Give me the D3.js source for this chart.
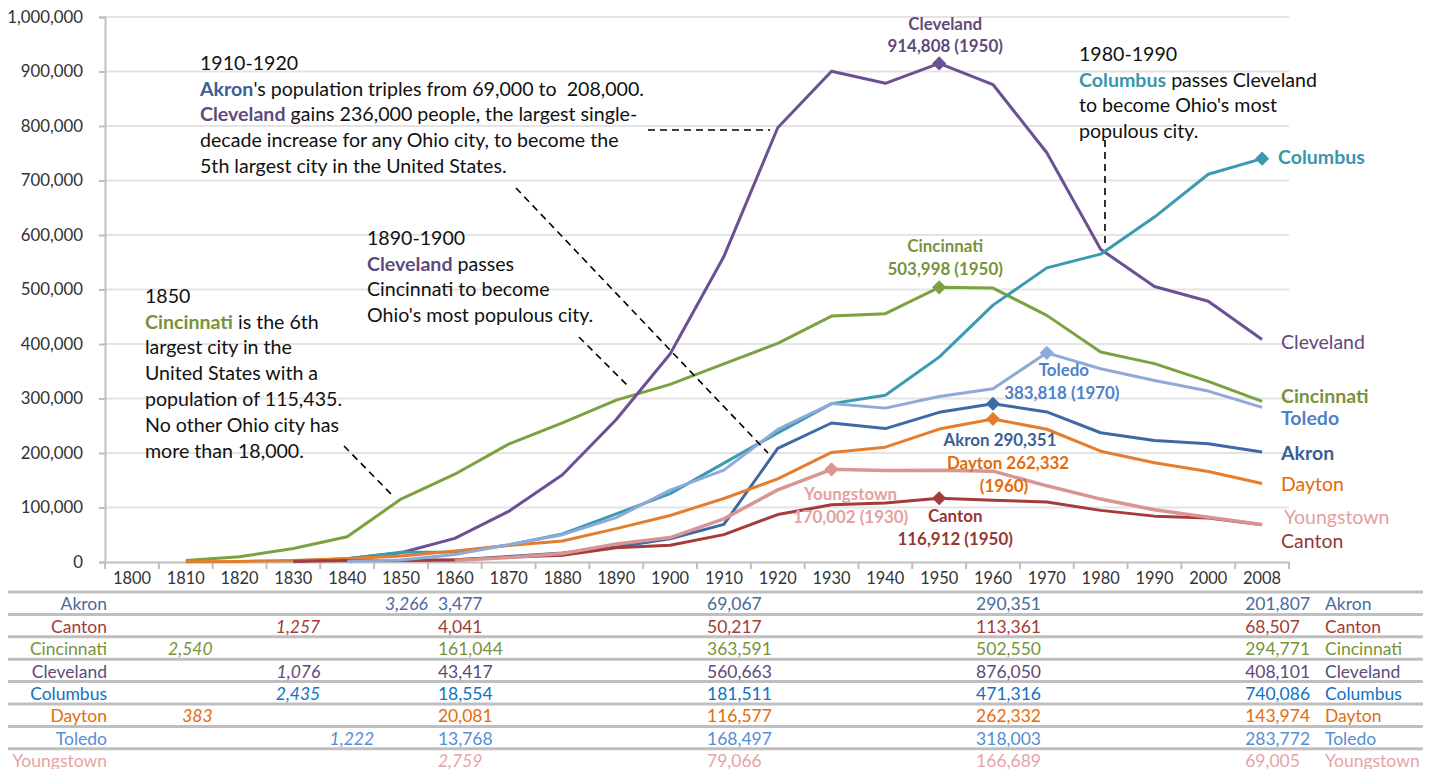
<!DOCTYPE html>
<html lang="en">
<head>
<meta charset="UTF-8">
<title>Ohio city populations</title>
<script src="https://cdn.jsdelivr.net/npm/d3@7"></script>
<style>
  body { margin: 0; background: #fff; }
  svg { display: block; font-family: Lato, "Open Sans", sans-serif; }
</style>
</head>
<body>
<svg id="chart" width="1431" height="769"></svg>
<script>
// census years (last one is the 2008 estimate)
const years = ['1800','1810','1820','1830','1840','1850','1860','1870','1880','1890','1900',
               '1910','1920','1930','1940','1950','1960','1970','1980','1990','2000','2008'];
const cities = ['Akron','Canton','Cincinnati','Cleveland','Columbus','Dayton','Toledo','Youngstown'];

const akron      = [null,null,null,null,null,3266,3477,10006,16512,27601,42728,69067,208435,255040,244791,274605,290351,275425,237177,223019,217074,201807];
const canton     = [null,null,null,1257,2529,2603,4041,8660,12258,26189,30667,50217,87091,104906,108401,116912,113361,110053,94730,84161,80806,68507];
const cincinnati = [null,2540,9642,24831,46338,115435,161044,216239,255139,296908,325902,363591,401247,451160,455610,503998,502550,452524,385457,364040,331285,294771];
const cleveland  = [null,null,null,1076,6071,17034,43417,92829,160146,261353,381768,560663,796841,900429,878336,914808,876050,750903,573822,505616,478403,408101];
const columbus   = [null,null,null,2435,6048,17882,18554,31274,51647,88150,125560,181511,237031,290564,306087,375901,471316,539677,564871,632910,711470,740086];
const dayton     = [null,383,1139,2950,6067,10977,20081,30473,38678,61220,85333,116577,152559,200982,210718,243872,262332,243601,203371,182044,166179,143974];
const toledo     = [null,null,null,null,1222,3829,13768,31584,50137,81434,131822,168497,243164,290718,282349,303616,318003,383818,354635,332943,313619,283772];
const youngstown = [null,null,null,null,null,null,2759,8075,15435,33220,44885,79066,132358,170002,167720,168330,166689,139788,115436,95732,82026,69005];

const yTickValues = [0,100000,200000,300000,400000,500000,600000,700000,800000,900000,1000000];
const tableYears = ['1860','1910','1960','2008'];

// peak / end markers
const peakYears = {Cleveland:'1950', Cincinnati:'1950', Toledo:'1970', Akron:'1960',
                   Dayton:'1960', Youngstown:'1930', Canton:'1950', Columbus:'2008'};

const series = {Akron:akron, Canton:canton, Cincinnati:cincinnati, Cleveland:cleveland,
                Columbus:columbus, Dayton:dayton, Toledo:toledo, Youngstown:youngstown};

const lineColor = {Akron:'#3d69a5', Canton:'#a53b3b', Cincinnati:'#7ba23f', Cleveland:'#6b5093',
                   Columbus:'#3a9ab2', Dayton:'#e47d2e', Toledo:'#8eaad8', Youngstown:'#d99494'};
const labelColor = {Akron:'#3a5f96', Canton:'#963736', Cincinnati:'#77933c', Cleveland:'#604a7b',
                    Columbus:'#3a96ad', Dayton:'#e46c0a', Toledo:'#4f81c8', Youngstown:'#e3a1a1'};
const tableColor = {Akron:'#4a6a9e', Canton:'#a33b3b', Cincinnati:'#77933c', Cleveland:'#604a7b',
                    Columbus:'#1272c0', Dayton:'#e46c0a', Toledo:'#558ed5', Youngstown:'#e6a4a4'};

const svg = d3.select('#chart');

const x = d3.scaleBand().domain(years).range([105, 1289]);
const xc = yr => x(yr) + x.bandwidth() / 2;
const y = d3.scaleLinear().domain([0, 1000000]).range([562, 17]);

// gridlines
svg.append('g').selectAll('line').data(yTickValues.slice(1)).join('line')
    .attr('x1', 105).attr('x2', 1289)
    .attr('y1', d => y(d)).attr('y2', d => y(d))
    .attr('stroke', '#e4e4e4').attr('stroke-width', 2);

// y axis
const yAxis = svg.append('g').attr('transform', 'translate(105,0)')
    .call(d3.axisLeft(y).tickValues(yTickValues).tickFormat(d3.format(',')).tickSize(6).tickPadding(16));
yAxis.select('.domain').attr('stroke', '#bfbfbf').attr('stroke-width', 2);
yAxis.selectAll('.tick line').attr('stroke', '#bfbfbf').attr('stroke-width', 2);
yAxis.selectAll('text').attr('font-size', 16.8).attr('fill', '#333').attr('font-family', 'Lato');

// x axis: labels centred in bands, ticks on band edges
const xAxis = svg.append('g').attr('transform', 'translate(0,562)')
    .call(d3.axisBottom(x).tickSize(0).tickPadding(10));
xAxis.select('.domain').attr('stroke', '#bfbfbf').attr('stroke-width', 2);
xAxis.selectAll('text').attr('font-size', 16.4).attr('fill', '#333').attr('font-family', 'Lato');
svg.append('g').selectAll('line').data(years.concat(['end'])).join('line')
    .attr('x1', (d, i) => i < years.length ? x(d) : 1289)
    .attr('x2', (d, i) => i < years.length ? x(d) : 1289)
    .attr('y1', 562).attr('y2', 569)
    .attr('stroke', '#bfbfbf').attr('stroke-width', 2);

// lines
const line = d3.line()
    .defined(d => d.v != null)
    .x(d => xc(d.yr))
    .y(d => y(d.v));

const drawOrder = ['Cincinnati','Cleveland','Columbus','Akron','Dayton','Canton','Youngstown','Toledo'];
drawOrder.forEach(c => {
  const pts = years.map((yr, i) => ({yr, v: series[c][i]}));
  svg.append('path').datum(pts)
      .attr('d', line)
      .attr('fill', 'none')
      .attr('stroke', lineColor[c])
      .attr('stroke-width', c === 'Youngstown' ? 3.5 : 3)
      .attr('stroke-linejoin', 'round');
});

// diamonds
const diamond = d3.symbol().type(d3.symbolSquare).size(100);
drawOrder.forEach(c => {
  const yr = peakYears[c];
  const v = series[c][years.indexOf(yr)];
  svg.append('path')
      .attr('d', diamond)
      .attr('transform', `translate(${xc(yr)},${y(v)}) rotate(45)`)
      .attr('fill', lineColor[c]);
});

// data labels near the markers
function pt(c) {
  const yr = peakYears[c];
  return [xc(yr), y(series[c][years.indexOf(yr)]), yr, series[c][years.indexOf(yr)]];
}
const fmt = d3.format(',');
function label(txt, px, py, color, anchor, weight, size) {
  svg.append('text').attr('x', px).attr('y', py).attr('dy', '0.35em')
      .attr('text-anchor', anchor || 'middle')
      .attr('font-weight', weight || 'bold')
      .attr('font-size', size || 16.9)
      .attr('fill', color).text(txt);
}
let p;
p = pt('Cleveland');
label('Cleveland', p[0] + 6, p[1] - 39, labelColor.Cleveland);
label(`${fmt(p[3])} (${p[2]})`, p[0] + 6, p[1] - 17, labelColor.Cleveland);
p = pt('Cincinnati');
label('Cincinnati', p[0] + 6, p[1] - 41, labelColor.Cincinnati);
label(`${fmt(p[3])} (${p[2]})`, p[0] + 6, p[1] - 18, labelColor.Cincinnati);
p = pt('Toledo');
label('Toledo', p[0] + 17, p[1] + 17, labelColor.Toledo);
label(`${fmt(p[3])} (${p[2]})`, p[0] + 15, p[1] + 40, labelColor.Toledo);
p = pt('Akron');
label(`Akron ${fmt(p[3])}`, p[0] + 7, p[1] + 36, labelColor.Akron);
p = pt('Dayton');
label(`Dayton ${fmt(p[3])}`, p[0] + 15, p[1] + 44, labelColor.Dayton);
label(`(${p[2]})`, p[0] + 11, p[1] + 67, labelColor.Dayton);
p = pt('Youngstown');
label('Youngstown', p[0] + 19, p[1] + 25, labelColor.Youngstown);
label(`${fmt(p[3])} (${p[2]})`, p[0] + 19, p[1] + 48, labelColor.Youngstown);
p = pt('Canton');
label('Canton', p[0] + 16, p[1] + 18, labelColor.Canton);
label(`${fmt(p[3])} (${p[2]})`, p[0] + 16, p[1] + 41, labelColor.Canton);
p = pt('Columbus');
label('Columbus', p[0] + 16, p[1] - 1, labelColor.Columbus, 'start', 'bold', 19.5);

// end-of-line labels
const endLabels = [
  ['Cleveland', 342, 'normal'], ['Cincinnati', 396, 'bold'], ['Toledo', 418, 'bold'],
  ['Akron', 453, 'bold'], ['Dayton', 484, 'normal'], ['Youngstown', 517, 'normal'], ['Canton', 541, 'normal']
];
endLabels.forEach(d => {
  label(d[0], d[0] === 'Youngstown' ? 1284 : 1281, d[1],
        d[0] === 'Youngstown' ? '#e3a1a1' : labelColor[d[0]], 'start', d[2], 19.5);
});

// annotations
function note(x0, y0, lines) {
  const t = svg.append('text').attr('font-size', 19.6).attr('fill', '#111')
      .attr('xml:space', 'preserve').style('white-space', 'pre');
  lines.forEach((segs, i) => {
    segs.forEach((s, j) => {
      const ts = t.append('tspan').text(typeof s === 'string' ? s : s[0]);
      if (j === 0) ts.attr('x', x0).attr('y', y0 + i * 25.8).attr('dy', '0.35em');
      if (typeof s !== 'string') ts.attr('fill', labelColor[s[0]]).attr('font-weight', 'bold');
    });
  });
}
note(200, 63, [
  ['1910-1920'],
  [['Akron'], "'s population triples from 69,000 to  208,000."],
  [['Cleveland'], ' gains 236,000 people, the largest single-'],
  ['decade increase for any Ohio city, to become the'],
  ['5th largest city in the United States.']
]);
note(367, 238, [
  ['1890-1900'],
  [['Cleveland'], ' passes'],
  ['Cincinnati to become'],
  ["Ohio's most populous city."]
]);
note(145, 296, [
  ['1850'],
  [['Cincinnati'], ' is the 6th'],
  ['largest city in the'],
  ['United States with a'],
  ['population of 115,435.'],
  ['No other Ohio city has'],
  ['more than 18,000.']
]);
note(1079, 54, [
  ['1980-1990'],
  [['Columbus'], ' passes Cleveland'],
  ["to become Ohio's most"],
  ['populous city.']
]);

// dashed leader lines
const leaders = [[648, 130, 770, 130], [516, 188, 768, 453], [579, 337, 629, 387],
                 [344, 446, 393, 496], [1105, 140, 1105, 243]];
svg.append('g').selectAll('line').data(leaders).join('line')
    .attr('x1', d => d[0]).attr('y1', d => d[1]).attr('x2', d => d[2]).attr('y2', d => d[3])
    .attr('stroke', '#000').attr('stroke-width', 1.6).attr('stroke-dasharray', '7,5');

// table below the chart
const row = d3.scaleBand().domain(cities).range([593, 593 + 8 * 22.4]);
svg.append('g').selectAll('line').data(cities).join('line')
    .attr('x1', 8).attr('x2', 1423)
    .attr('y1', d => row(d) - 1).attr('y2', d => row(d) - 1)
    .attr('stroke', '#bfbfbf').attr('stroke-width', 3);

const tbl = svg.append('g').attr('font-size', 17.5);
cities.forEach(c => {
  const cy = row(c) + row.bandwidth() / 2;
  const col = tableColor[c];
  const vals = series[c];
  tbl.append('text').attr('x', 107).attr('y', cy).attr('dy', '0.35em')
      .attr('text-anchor', 'end').attr('fill', col).text(c);
  const first = vals.findIndex(v => v != null);
  const firstYear = years[first];
  if (!tableYears.includes(firstYear)) {
    tbl.append('text').attr('x', x(firstYear) + x.bandwidth()).attr('y', cy).attr('dy', '0.35em')
        .attr('text-anchor', 'end').attr('font-style', 'italic').attr('fill', col)
        .text(fmt(vals[first]));
  }
  tableYears.forEach(yr => {
    tbl.append('text').attr('x', x(yr) + 10).attr('y', cy).attr('dy', '0.35em')
        .attr('fill', col)
        .attr('font-style', yr === firstYear ? 'italic' : 'normal')
        .text(fmt(vals[years.indexOf(yr)]));
  });
  tbl.append('text').attr('x', 1325).attr('y', cy).attr('dy', '0.35em')
      .attr('fill', col).text(c);
});
</script>
</body>
</html>
